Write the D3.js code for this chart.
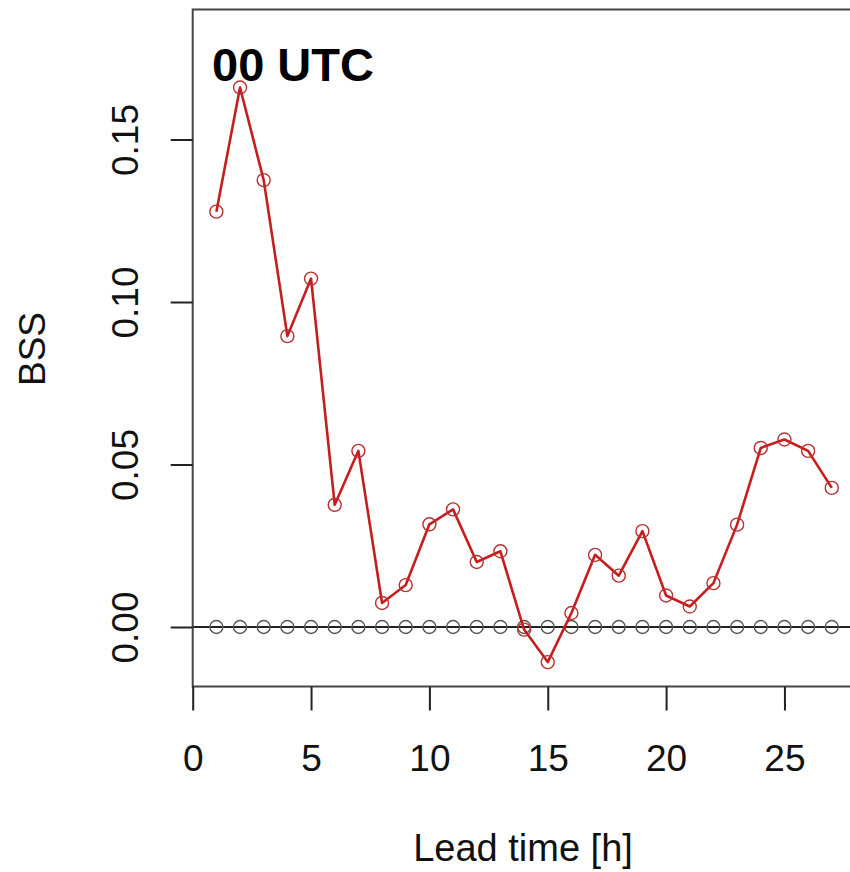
<!DOCTYPE html>
<html lang="en">
<head>
<meta charset="UTF-8">
<script src="https://d3js.org/d3.v7.min.js"></script>
<title>BSS 00 UTC</title>
<style>
  html, body { margin: 0; padding: 0; background: #fff; }
  svg { display: block; }
  text { font-family: "Liberation Sans", Arial, Helvetica, sans-serif; fill: #111; }
</style>
</head>
<body>
<div id="chart"></div>
<script>

// data
var leadTime = [1, 2, 3, 4, 5, 6, 7, 8, 9, 10, 11, 12, 13, 14, 15, 16, 17, 18, 19, 20, 21, 22, 23, 24, 25, 26, 27];
var bss = [0.1278, 0.166, 0.1375, 0.0895, 0.1072, 0.0376, 0.0542, 0.0074, 0.0129, 0.0316, 0.0362, 0.0200, 0.0233,
           -0.0008, -0.0108, 0.0043, 0.0222, 0.0158, 0.0295, 0.0097, 0.0063, 0.0135, 0.0315, 0.0551, 0.0577, 0.0542, 0.0428];
var refBss = [0, 0, 0, 0, 0, 0, 0, 0, 0, 0, 0, 0, 0, 0, 0, 0, 0, 0, 0, 0, 0, 0, 0, 0, 0, 0, 0];
var xTicks = [0, 5, 10, 15, 20, 25];
var yTicks = [0.00, 0.05, 0.10, 0.15];

var W = 850, H = 872;

// plot box (right side runs past the picture edge)
var box = {left: 192.7, top: 9.5, right: 870, bottom: 686.5};

var svg = d3.select("#chart").append("svg")
  .attr("width", W)
  .attr("height", H);

var x = d3.scaleLinear()
  .domain([0, 27])
  .range([192.7, 192.7 + 27 * 23.67]);

var y = d3.scaleLinear()
  .domain([0, 0.15])
  .range([627, 139.5]);

// zero line (clipped to box)
svg.append("line")
  .attr("x1", box.left).attr("x2", box.right)
  .attr("y1", y(0)).attr("y2", y(0))
  .attr("stroke", "#222")
  .attr("stroke-width", 2);

// reference circles on zero
svg.append("g").selectAll("circle")
  .data(leadTime)
  .enter()
  .append("circle")
  .attr("cx", function(d) { return x(d); })
  .attr("cy", function(d, i) { return y(refBss[i]); })
  .attr("r", 6.5)
  .attr("fill", "none")
  .attr("stroke", "#555")
  .attr("stroke-width", 1.4);

// BSS line
var line = d3.line()
  .x(function(d, i) { return x(leadTime[i]); })
  .y(function(d) { return y(d); });

svg.append("path")
  .datum(bss)
  .attr("d", line)
  .attr("fill", "none")
  .attr("stroke", "#c41e1e")
  .attr("stroke-width", 2.6)
  .attr("stroke-linejoin", "round");

svg.append("g").selectAll("circle")
  .data(bss)
  .enter()
  .append("circle")
  .attr("cx", function(d, i) { return x(leadTime[i]); })
  .attr("cy", function(d) { return y(d); })
  .attr("r", 6.5)
  .attr("fill", "none")
  .attr("stroke", "#b83030")
  .attr("stroke-width", 1.4);

// box
svg.append("path")
  .attr("d", "M" + box.right + "," + box.top + "H" + box.left + "V" + box.bottom + "H" + box.right)
  .attr("fill", "none")
  .attr("stroke", "#444")
  .attr("stroke-width", 2);

// X axis
var xAxis = svg.append("g")
  .attr("transform", "translate(0," + box.bottom + ")")
  .call(d3.axisBottom(x).tickValues(xTicks).tickFormat(d3.format("d")).tickSize(24).tickSizeOuter(0));
xAxis.select(".domain").remove();
xAxis.selectAll(".tick line").attr("stroke", "#222").attr("stroke-width", 2);
xAxis.selectAll(".tick text")
  .attr("y", 84)
  .attr("dy", 0)
  .style("font-size", "37px")
  .style("fill", "#111");

// Y axis
var yAxis = svg.append("g")
  .attr("transform", "translate(" + box.left + ",0)")
  .call(d3.axisLeft(y).tickValues(yTicks).tickFormat(d3.format(".2f")).tickSize(22).tickSizeOuter(0));
yAxis.select(".domain").remove();
yAxis.selectAll(".tick line").attr("stroke", "#222").attr("stroke-width", 2);
yAxis.selectAll(".tick text")
  .attr("transform", "rotate(-90)")
  .attr("x", 0)
  .attr("y", -55)
  .attr("dy", 0)
  .attr("text-anchor", "middle")
  .style("font-size", "37px")
  .style("fill", "#111");

// labels
svg.append("text")
  .attr("x", 523)
  .attr("y", 861)
  .attr("text-anchor", "middle")
  .style("font-size", "38px")
  .text("Lead time [h]");

svg.append("text")
  .attr("transform", "translate(45,349) rotate(-90)")
  .attr("text-anchor", "middle")
  .style("font-size", "37px")
  .text("BSS");

svg.append("text")
  .attr("x", 212)
  .attr("y", 81)
  .style("font-size", "47px")
  .style("font-weight", "bold")
  .style("fill", "#000")
  .text("00 UTC");

</script>
</body>
</html>
